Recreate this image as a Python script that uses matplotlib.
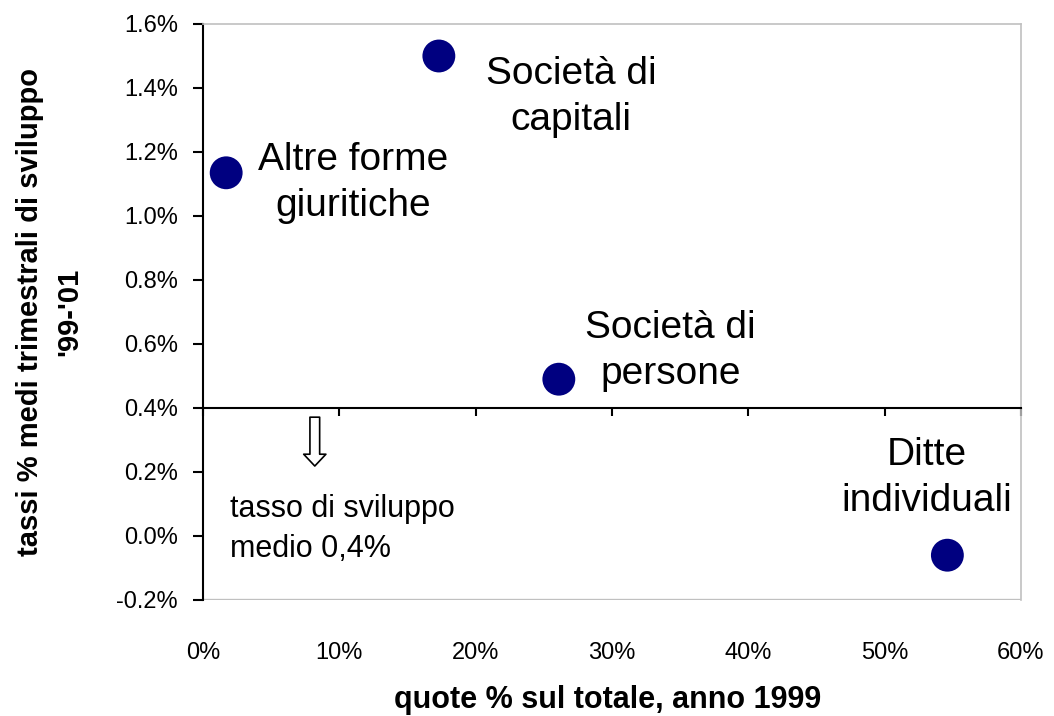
import matplotlib
matplotlib.use("Agg")
import matplotlib.pyplot as plt
from matplotlib.ticker import FuncFormatter, MultipleLocator

plt.rcParams['font.family'] = ['Liberation Sans', 'DejaVu Sans']

# Data
categories = ["Altre forme\ngiuritiche", "Società di\ncapitali", "Società di\npersone", "Ditte\nindividuali"]
quote = [1.7, 17.3, 26.1, 54.6]          # % sul totale, anno 1999
tassi = [1.135, 1.50, 0.49, -0.06]      # tassi % medi trimestrali di sviluppo '99-'01
label_pos = [(11.0, 1.103), (27.0, 1.372), (34.3, 0.578), (53.1, 0.181)]
x_ticks = [0, 10, 20, 30, 40, 50, 60]
y_ticks = [-0.2, 0.0, 0.2, 0.4, 0.6, 0.8, 1.0, 1.2, 1.4, 1.6]
media = 0.4
note_text = "tasso di sviluppo\nmedio 0,4%"

fig = plt.figure(figsize=(10.54, 7.16), dpi=100)
ax = fig.add_axes([203/1054, 1-600/716, (1021-203)/1054, (600-24)/716])

ax.set_xlim(0, 60)
ax.set_ylim(-0.2, 1.6)

ax.scatter(quote, tassi, s=560, color='#000080', zorder=3, edgecolors='none')

for lab, (lx, ly) in zip(categories, label_pos):
    ax.text(lx, ly, lab, ha='center', va='center', fontsize=28, linespacing=1.35)

ax.text(2.0, 0.022, note_text, ha='left', va='center', fontsize=22, linespacing=1.4)

# hollow arrow below the mean line
ax.annotate("", xy=(8.2, 0.21), xytext=(8.2, 0.38),
            arrowprops=dict(arrowstyle="simple,head_length=0.85,head_width=1.6,tail_width=0.7",
                            facecolor='white', edgecolor='black', lw=1.2))

# spines
for s in ['top', 'right']:
    ax.spines[s].set_color('#c0c0c0')
    ax.spines[s].set_linewidth(1.2)
ax.spines['left'].set_color('black')
ax.spines['left'].set_linewidth(1.5)
ax.spines['bottom'].set_position(('data', media))
ax.spines['bottom'].set_color('black')
ax.spines['bottom'].set_linewidth(1.5)
# grey plot-area bottom border
ax.axhline(-0.2, color='#c0c0c0', lw=2.4, zorder=1)

ax.set_yticks(y_ticks)
ax.yaxis.set_major_formatter(FuncFormatter(lambda v, p: f"{v:.1f}%"))
ax.tick_params(axis='y', direction='out', length=7, width=1.5, labelsize=17, pad=11)

ax.set_xticks(x_ticks)
ax.tick_params(axis='x', direction='out', length=6, width=1.5, labelbottom=False)

sec = ax.secondary_xaxis(0)
sec.set_xticks(x_ticks)
sec.xaxis.set_major_formatter(FuncFormatter(lambda v, p: f"{v:.0f}%"))
sec.tick_params(axis='x', length=0, labelsize=17, pad=30)
sec.spines['bottom'].set_visible(False)

fig.text(608/1054, 1-700/716, "quote % sul totale, anno 1999", ha='center', va='center',
         fontsize=22, fontweight='bold')
fig.text(50/1054, 1-312/716, "tassi % medi trimestrali di sviluppo\n'99-'01", ha='center', va='center',
         rotation=90, fontsize=21, fontweight='bold', linespacing=1.5)

fig.savefig("out.png", dpi=100)
